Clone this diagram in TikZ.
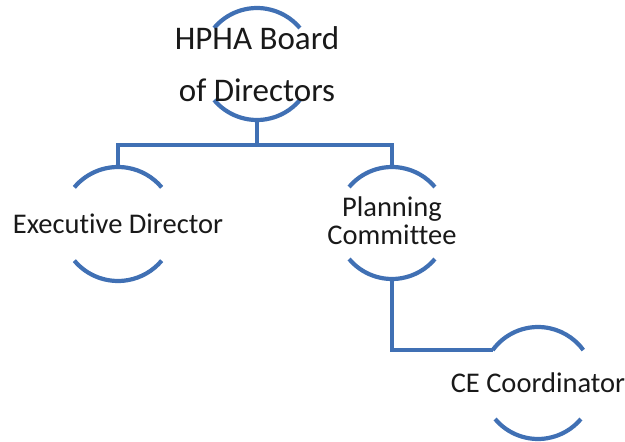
\documentclass[tikz,border=0pt]{standalone}
\usepackage{fontspec}
\setmainfont{Carlito}[Ligatures=NoCommon]
\definecolor{orgblue}{RGB}{64,112,180}
\definecolor{orgtext}{RGB}{25,25,25}
\begin{document}
\begin{tikzpicture}[x=1pt,y=1pt,
  ring/.style={circle,draw=none,minimum size=#1,inner sep=0pt,outer sep=0pt},
  ring/.default=112pt,
  txt/.style={inner sep=0pt,outer sep=0pt,align=center,text=orgtext,font=\fontsize{28.5}{28}\selectfont},
  arcline/.style={draw=orgblue,line width=4.2pt},
  conn/.style={draw=orgblue,line width=3.6pt,line join=miter}]
\useasboundingbox (0,0) rectangle (625,442);
% circles (invisible), positioned with y = 442 - pixel row
\node[ring=112pt] (top)  at (257,378) {};
\node[ring=114pt] (exec) at (118,218) {};
\node[ring=112pt] (plan) at (392,219) {};
\node[ring=112pt] (ce)   at (538,59) {};
\coordinate (bus) at (257,297);
% arcs
\foreach \n/\r in {top/56pt,exec/57pt,plan/56pt}{
  \draw[arcline] (\n.140) arc[start angle=140,end angle=40,radius=\r];
  \draw[arcline] (\n.220) arc[start angle=220,end angle=320,radius=\r];
}
\draw[arcline] (ce.144) arc[start angle=144,end angle=36,radius=56pt];
\draw[arcline] (ce.220) arc[start angle=220,end angle=320,radius=56pt];
% connectors
\draw[conn] (top.south) -- (top.south |- bus);
\draw[conn] (exec.north) -- (exec.north |- bus) -- (plan.north |- bus) -- (plan.north);
\draw[conn] (plan.south) |- (ce.144);
% texts
\node[txt,font=\fontsize{33}{52}\selectfont] (top-t) at (top) {HPHA Board\\of Directors};
\node[txt] (exec-t) at (exec) {Executive Director};
\node[txt] (plan-t) at ([yshift=2pt]plan) {Planning\\Committee};
\node[txt] (ce-t) at (ce) {CE Coordinator};
\end{tikzpicture}
\end{document}
